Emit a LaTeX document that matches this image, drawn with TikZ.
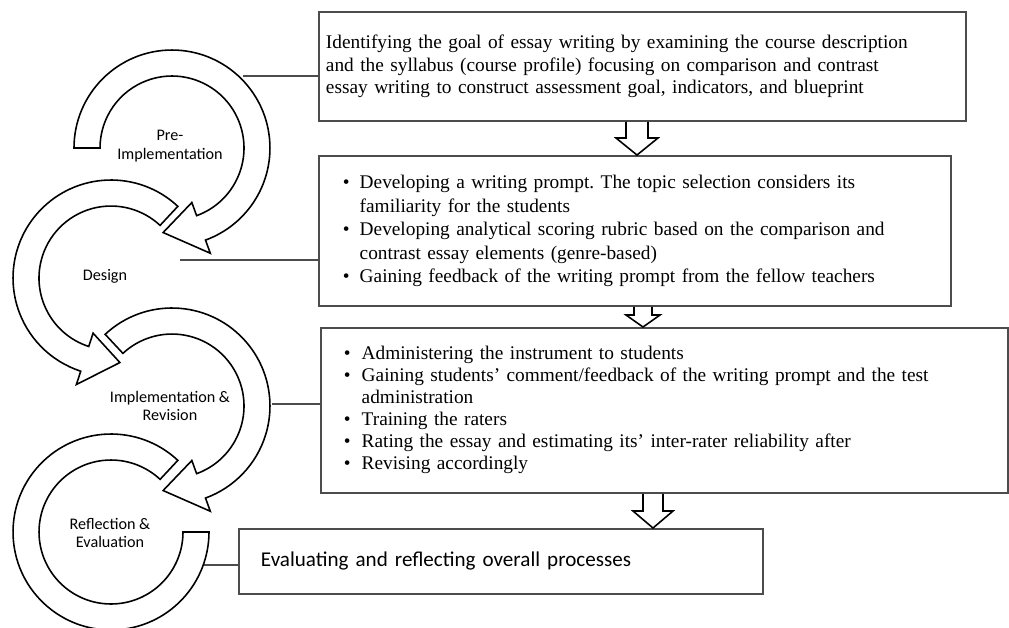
\documentclass[tikz,border=0pt]{standalone}
\usepackage{fontspec}
\setmainfont{Liberation Serif}
\newfontfamily\labelfont{Carlito}
\usetikzlibrary{calc}
\frenchspacing

\tikzset{
  box/.style={draw=black!70, line width=1.1pt, anchor=north west, inner ysep=0pt, align=left,
    font=\fontsize{11}{12.8}\selectfont},
  curved/.style={draw=black, line width=0.9pt, fill=white},
  link/.style={draw=black!70, line width=0.8pt},
  blockline/.style={draw=black, line width=0.9pt},
  phase/.style={font=\labelfont\fontsize{9.2}{10.5}\selectfont, align=center},
}

\begin{document}
\begin{tikzpicture}[x=0.02cm, y=0.02cm]
\useasboundingbox (0,0) rectangle (1009,-627);

% the four boxes
\node[box, minimum width=12.94cm, minimum height=2.18cm, text width=12.66cm, inner xsep=0.14cm] (goal) at (318,-11)
  {Identifying the goal of essay writing by examining the course description\\
   and the syllabus (course profile) focusing on comparison and contrast\\
   essay writing to construct assessment goal, indicators, and blueprint};
\node[box, minimum width=12.64cm, minimum height=3cm, text width=11.68cm, inner xsep=0.48cm,
  font=\fontsize{11}{13.3}\selectfont] (design) at (318,-155)
  {\begin{tabular}{@{}l@{\hspace{0.2cm}}l@{}}
   \textbullet & Developing a writing prompt. The topic selection considers its\\
               & familiarity for the students\\
   \textbullet & Developing analytical scoring rubric based on the comparison and\\
               & contrast essay elements (genre-based)\\
   \textbullet & Gaining feedback of the writing prompt from the fellow teachers
   \end{tabular}};
\node[box, minimum width=13.74cm, minimum height=3.3cm, text width=12.82cm, inner xsep=0.46cm,
  font=\fontsize{11}{12.5}\selectfont] (implement) at (320,-327)
  {\begin{tabular}{@{}l@{\hspace{0.22cm}}l@{}}
   \textbullet & Administering the instrument to students\\
   \textbullet & Gaining students’ comment/feedback of the writing prompt and the test\\
               & administration\\
   \textbullet & Training the raters\\
   \textbullet & Rating the essay and estimating its’ inter-rater reliability after\\
   \textbullet & Revising accordingly
   \end{tabular}};
\node[box, minimum width=10.48cm, minimum height=1.3cm, text width=9.6cm, inner xsep=0.44cm,
  font=\labelfont\fontsize{12}{14}\selectfont] (evaluate) at (238,-528)
  {Evaluating and reflecting overall processes};

% hollow arrows between the boxes
\path (goal.south west) ++(319,0) coordinate (t1);
\path (design.north west) ++(319,0) coordinate (h1);
\path (design.south west) ++(325,0) coordinate (t2);
\path (implement.north west) ++(323,0) coordinate (h2);
\path (implement.south west) ++(333,0) coordinate (t3);
\path (evaluate.north west) ++(415,0) coordinate (h3);
\draw[blockline] ($(t1)+(-11,0)$) -- ($(h1)+(-11,17)$) -- ($(h1)+(-21,17)$) -- (h1)
  -- ($(h1)+(21,17)$) -- ($(h1)+(11,17)$) -- ($(t1)+(11,0)$);
\draw[blockline] ($(t2)+(-9,0)$) -- ($(h2)+(-9,12)$) -- ($(h2)+(-17,12)$) -- (h2)
  -- ($(h2)+(17,12)$) -- ($(h2)+(9,12)$) -- ($(t2)+(9,0)$);
\draw[blockline] ($(t3)+(-10,0)$) -- ($(h3)+(-10,17)$) -- ($(h3)+(-20,17)$) -- (h3)
  -- ($(h3)+(20,17)$) -- ($(h3)+(10,17)$) -- ($(t3)+(10,0)$);

% lines from the cycle to the boxes
\coordinate (preend) at (243,-76);
\coordinate (desend) at (180,-260);
\coordinate (impend) at (272,-404);
\coordinate (refend) at (204,-565);
\draw[link] (preend) -- (goal.west |- preend);
\draw[link] (desend) -- (design.west |- desend);
\draw[link] (impend) -- (implement.west |- impend);
\draw[link] (refend) -- (evaluate.west |- refend);

% the curved arrows, last one first
\begin{scope}[shift={(111,-532)}]
\draw[curved] (47:98) arc[start angle=47, end angle=360, radius=1.96cm] -- (0:72)
  arc[start angle=360, end angle=47, radius=1.44cm] -- cycle;
\end{scope}
\begin{scope}[shift={(172,-406)}]
\draw[curved] (133:98) arc[start angle=133, end angle=-70, radius=1.96cm] -- (-70:112) -- (-96:85)
  -- (-70:58) -- (-70:72) arc[start angle=-70, end angle=133, radius=1.44cm] -- cycle;
\end{scope}
\begin{scope}[shift={(111,-278)}]
\draw[curved] (47:98) arc[start angle=47, end angle=252, radius=1.96cm] -- (252:112) -- (276:85)
  -- (252:58) -- (252:72) arc[start angle=252, end angle=47, radius=1.44cm] -- cycle;
\end{scope}
\begin{scope}[shift={(172,-148)}]
\draw[curved] (180:98) arc[start angle=180, end angle=-70, radius=1.96cm] -- (-70:112) -- (-96:85)
  -- (-70:58) -- (-70:72) arc[start angle=-70, end angle=180, radius=1.44cm] -- cycle;
\end{scope}

% phase names
\node[phase] (pre) at (170,-146) {Pre-\\Implementation};
\node[phase] (des) at (105,-276) {Design};
\node[phase] (imp) at (170,-406) {Implementation \&\\Revision};
\node[phase] (ref) at (110,-533) {Reflection \&\\Evaluation};
\end{tikzpicture}
\end{document}
